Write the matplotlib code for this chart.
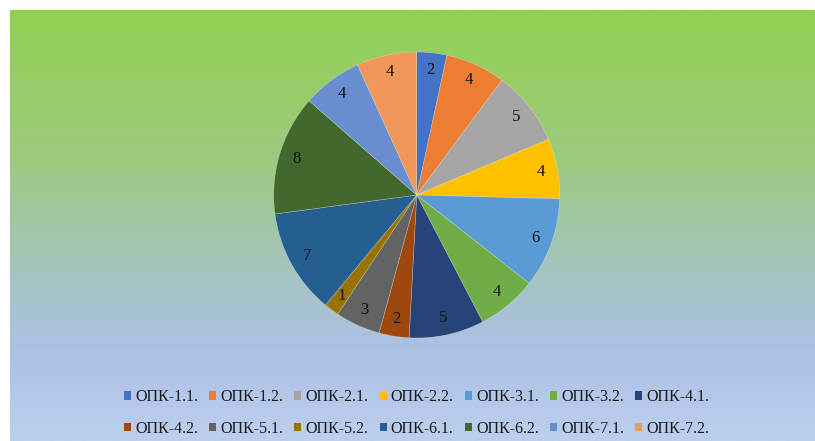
import numpy as np
import matplotlib.pyplot as plt
from matplotlib.patches import Patch
from matplotlib.colors import LinearSegmentedColormap

# data
labels = ["ОПК-1.1.", "ОПК-1.2.", "ОПК-2.1.", "ОПК-2.2.", "ОПК-3.1.", "ОПК-3.2.", "ОПК-4.1.",
          "ОПК-4.2.", "ОПК-5.1.", "ОПК-5.2.", "ОПК-6.1.", "ОПК-6.2.", "ОПК-7.1.", "ОПК-7.2."]
values = [2, 4, 5, 4, 6, 4, 5, 2, 3, 1, 7, 8, 4, 4]
colors = ["#4472C4", "#ED7D31", "#A5A5A5", "#FFC000", "#5B9BD5", "#70AD47", "#264478",
          "#9E480E", "#636363", "#997300", "#255E91", "#43682B", "#698ED0", "#F1975A"]

plt.rcParams['font.family'] = ['Liberation Serif', 'DejaVu Serif']

W, H = 815, 441
fig = plt.figure(figsize=(W / 100, H / 100), dpi=100)
fig.patch.set_facecolor("white")

# gradient background (green at top, light blue at bottom)
bg = fig.add_axes([10 / W, 0, 1 - 10 / W, 1 - 10 / H])
bg_cmap = LinearSegmentedColormap.from_list("bg", [
    (0.0, "#92D050"), (0.35, "#9CCA80"), (0.6, "#A4C5BE"),
    (0.8, "#ADC1E6"), (1.0, "#BCCFEE")])
grad = np.linspace(0, 1, 256).reshape(-1, 1)
bg.imshow(grad, aspect="auto", cmap=bg_cmap, extent=[0, 1, 0, 1])
bg.axis("off")

# pie
cx, cy, r = 416.7, H - 195, 143
ax = fig.add_axes([(cx - r) / W, (cy - r) / H, 2 * r / W, 2 * r / H])
wedges, texts = ax.pie(values, colors=colors, labels=[str(v) for v in values],
                       startangle=90, counterclock=False, labeldistance=0.88,
                       wedgeprops=dict(linewidth=0.4, edgecolor=(1, 1, 1, 0.4)),
                       textprops=dict(fontsize=12, color="#111111"))
for t in texts:
    t.set_horizontalalignment("center")
    t.set_verticalalignment("center")
ax.set_xlim(-1, 1)
ax.set_ylim(-1, 1)

# legend filled row by row (matplotlib fills column by column)
ncol = 7
order = [row * ncol + col for col in range(ncol) for row in range(2)]
handles = [Patch(facecolor=colors[i], edgecolor="none") for i in order]
fig.legend(handles, [labels[i] for i in order], loc="center",
           bbox_to_anchor=(416.5 / W, 28 / H),
           ncol=ncol, frameon=False, fontsize=11.5, handlelength=0.45, handleheight=0.45,
           handletextpad=0.25, columnspacing=0.7, labelspacing=0.95,
           labelcolor="#1a1a1a")

fig.savefig("out.png", dpi=100)
